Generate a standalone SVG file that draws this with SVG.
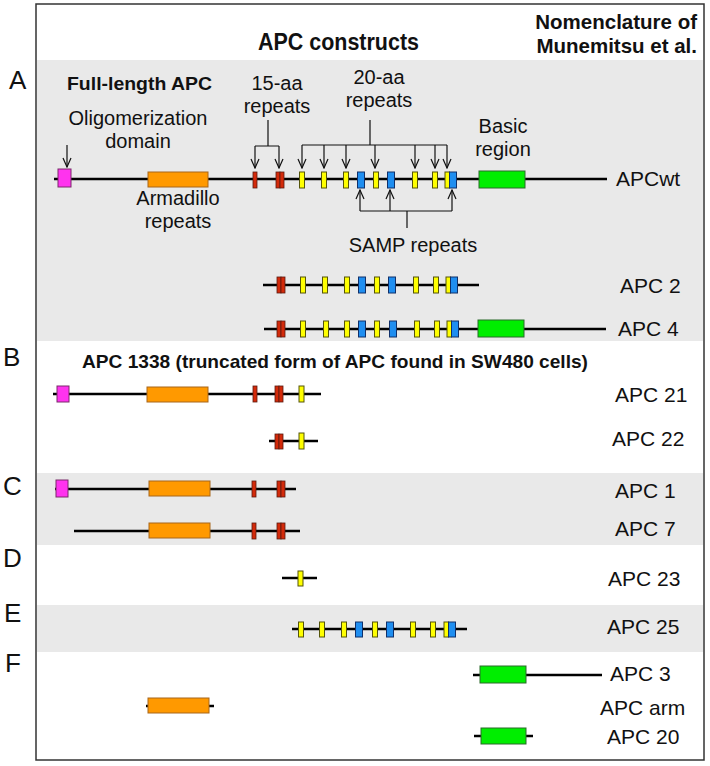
<svg xmlns="http://www.w3.org/2000/svg" width="710" height="766" viewBox="0 0 710 766">
<defs>
<style>
.t{font-family:"Liberation Sans",Arial,sans-serif;fill:#111}
.lbl{font-size:21px}
.ann{font-size:20px}
.hd{font-size:23px;font-weight:bold}
.hd2{font-size:20.5px;font-weight:bold}
.sub{font-size:19px;font-weight:bold}
.let{font-size:26px}
.band{fill:#e9e9e9}
.ln{stroke:#000;stroke-width:2.4;fill:none}
.pk{fill:#ff33ee;stroke:#7a2a6a;stroke-width:1}
.or{fill:#ff9900;stroke:#a8661a;stroke-width:1}
.rd{fill:#d42a0a;stroke:#5a1a10;stroke-width:0.8}
.ye{fill:#ffff00;stroke:#55550a;stroke-width:1}
.bl{fill:#1f8ef0;stroke:#10306a;stroke-width:1}
.gr{fill:#00ee00;stroke:#2a6a2a;stroke-width:1}
.ar{stroke:#111;stroke-width:1.2;fill:none}
</style>
<marker id="ah" viewBox="-10 -5 11 10" refX="0" refY="0" markerWidth="11" markerHeight="10" markerUnits="userSpaceOnUse" orient="auto">
<path d="M-9,-4 L0,0 L-9,4" fill="none" stroke="#111" stroke-width="1.2"/>
</marker>
</defs>
<rect x="0" y="0" width="710" height="766" fill="#fff"/>
<g id="bands">
<rect class="band" x="37" y="60" width="666" height="281"/>
<rect class="band" x="37" y="473" width="666" height="72"/>
<rect class="band" x="37" y="605" width="666" height="47"/>
</g>
<rect x="36" y="4" width="668" height="756" fill="none" stroke="#333" stroke-width="1.5"/>
<g id="headers">
<text class="t hd" x="258" y="50" textLength="161" lengthAdjust="spacingAndGlyphs">APC constructs</text>
<text class="t hd2" x="697" y="29" text-anchor="end">Nomenclature of</text>
<text class="t hd2" x="697" y="53" text-anchor="end">Munemitsu et al.</text>
</g>
<g id="letters">
<text class="t let" x="9" y="89">A</text>
<text class="t let" x="3" y="366">B</text>
<text class="t let" x="3" y="495">C</text>
<text class="t let" x="3" y="567">D</text>
<text class="t let" x="4" y="622">E</text>
<text class="t let" x="5" y="672">F</text>
</g>
<g id="APCwt">
<text class="t sub" x="67" y="90" textLength="145" lengthAdjust="spacingAndGlyphs">Full-length APC</text>
<text class="t ann" x="138" y="125" text-anchor="middle">Oligomerization</text>
<text class="t ann" x="138" y="148" text-anchor="middle">domain</text>
<text class="t ann" x="277" y="90" text-anchor="middle">15-aa</text>
<text class="t ann" x="277" y="113" text-anchor="middle">repeats</text>
<text class="t ann" x="379" y="84" text-anchor="middle">20-aa</text>
<text class="t ann" x="379" y="107" text-anchor="middle">repeats</text>
<text class="t ann" x="503" y="133" text-anchor="middle">Basic</text>
<text class="t ann" x="503" y="156" text-anchor="middle">region</text>
<text class="t ann" x="178" y="205" text-anchor="middle">Armadillo</text>
<text class="t ann" x="178" y="228" text-anchor="middle">repeats</text>
<text class="t ann" x="413" y="252" text-anchor="middle">SAMP repeats</text>
<line class="ln" x1="54" y1="179" x2="607" y2="179"/>
<rect class="pk" x="58" y="169" width="13" height="18"/>
<rect class="or" x="148" y="172" width="60" height="15"/>
<rect class="rd" x="253" y="172" width="4" height="16"/>
<rect class="rd" x="276" y="172" width="4" height="16"/>
<rect class="rd" x="280" y="172" width="4" height="16"/>
<rect class="ye" x="299.5" y="172" width="5" height="16"/>
<rect class="ye" x="321.5" y="172" width="5" height="16"/>
<rect class="ye" x="343.5" y="172" width="5" height="16"/>
<rect class="bl" x="357.5" y="172" width="7" height="16"/>
<rect class="ye" x="373.5" y="172" width="5" height="16"/>
<rect class="bl" x="387.5" y="172" width="7" height="16"/>
<rect class="ye" x="412.5" y="172" width="5" height="16"/>
<rect class="ye" x="432.5" y="172" width="5" height="16"/>
<rect class="ye" x="445" y="172" width="4.5" height="16"/>
<rect class="bl" x="449.5" y="172" width="7" height="16"/>
<rect class="gr" x="479" y="171" width="46" height="17"/>
<text class="t lbl" x="616" y="186">APCwt</text>
</g>
<g id="connectors">
<line class="ar" x1="67" y1="145" x2="67" y2="167" marker-end="url(#ah)"/>
<path class="ar" d="M268,120 V146 M255,146 H279"/>
<line class="ar" x1="255" y1="146" x2="255" y2="168" marker-end="url(#ah)"/>
<line class="ar" x1="279" y1="146" x2="279" y2="168" marker-end="url(#ah)"/>
<path class="ar" d="M370,120 V145 M302,145 H447"/>
<line class="ar" x1="302" y1="145" x2="302" y2="168" marker-end="url(#ah)"/>
<line class="ar" x1="324" y1="145" x2="324" y2="168" marker-end="url(#ah)"/>
<line class="ar" x1="346" y1="145" x2="346" y2="168" marker-end="url(#ah)"/>
<line class="ar" x1="375" y1="145" x2="375" y2="168" marker-end="url(#ah)"/>
<line class="ar" x1="415" y1="145" x2="415" y2="168" marker-end="url(#ah)"/>
<line class="ar" x1="435" y1="145" x2="435" y2="168" marker-end="url(#ah)"/>
<line class="ar" x1="447" y1="145" x2="447" y2="168" marker-end="url(#ah)"/>
<path class="ar" d="M360,211 H452 M407,211 V228"/>
<line class="ar" x1="360" y1="211" x2="360" y2="190" marker-end="url(#ah)"/>
<line class="ar" x1="390" y1="211" x2="390" y2="190" marker-end="url(#ah)"/>
<line class="ar" x1="452" y1="211" x2="452" y2="190" marker-end="url(#ah)"/>
</g>
<g id="APC2">
<line class="ln" x1="263" y1="285" x2="479" y2="285"/>
<rect class="rd" x="277" y="277" width="4" height="16"/>
<rect class="rd" x="281" y="277" width="4" height="16"/>
<rect class="ye" x="300.5" y="277" width="5" height="16"/>
<rect class="ye" x="322.5" y="277" width="5" height="16"/>
<rect class="ye" x="344.5" y="277" width="5" height="16"/>
<rect class="bl" x="358.5" y="277" width="7" height="16"/>
<rect class="ye" x="374.5" y="277" width="5" height="16"/>
<rect class="bl" x="388.5" y="277" width="7" height="16"/>
<rect class="ye" x="413.5" y="277" width="5" height="16"/>
<rect class="ye" x="433.5" y="277" width="5" height="16"/>
<rect class="ye" x="446" y="277" width="4.5" height="16"/>
<rect class="bl" x="450.5" y="277" width="7" height="16"/>
<text class="t lbl" x="620" y="293">APC 2</text>
</g>
<g id="APC4">
<line class="ln" x1="264" y1="329" x2="606" y2="329"/>
<rect class="rd" x="277" y="321" width="4" height="16"/>
<rect class="rd" x="281" y="321" width="4" height="16"/>
<rect class="ye" x="300.5" y="321" width="5" height="16"/>
<rect class="ye" x="323.5" y="321" width="5" height="16"/>
<rect class="ye" x="344.5" y="321" width="5" height="16"/>
<rect class="bl" x="358.5" y="321" width="7" height="16"/>
<rect class="ye" x="374.5" y="321" width="5" height="16"/>
<rect class="bl" x="389.5" y="321" width="7" height="16"/>
<rect class="ye" x="414.5" y="321" width="5" height="16"/>
<rect class="ye" x="434.5" y="321" width="5" height="16"/>
<rect class="ye" x="447" y="321" width="4.5" height="16"/>
<rect class="bl" x="451.5" y="321" width="7" height="16"/>
<rect class="gr" x="478" y="320" width="46" height="17"/>
<text class="t lbl" x="618" y="336">APC 4</text>
</g>
<g id="APC21">
<text class="t sub" x="82" y="368" textLength="506" lengthAdjust="spacingAndGlyphs">APC 1338 (truncated form of APC found in SW480 cells)</text>
<line class="ln" x1="53" y1="394" x2="321" y2="394"/>
<rect class="pk" x="57" y="386" width="12" height="16"/>
<rect class="or" x="147" y="387" width="61" height="15"/>
<rect class="rd" x="253" y="386" width="4" height="16"/>
<rect class="rd" x="275" y="386" width="4" height="16"/>
<rect class="rd" x="279" y="386" width="4" height="16"/>
<rect class="ye" x="299" y="386" width="5" height="16"/>
<text class="t lbl" x="615" y="402">APC 21</text>
</g>
<g id="APC22">
<line class="ln" x1="269" y1="441" x2="318" y2="441"/>
<rect class="rd" x="275" y="434" width="4" height="15"/>
<rect class="rd" x="279" y="434" width="4" height="15"/>
<rect class="ye" x="299" y="433" width="5" height="16"/>
<text class="t lbl" x="612" y="446">APC 22</text>
</g>
<g id="APC1">
<line class="ln" x1="55" y1="489" x2="296" y2="489"/>
<rect class="pk" x="56" y="480" width="12" height="17"/>
<rect class="or" x="149" y="481" width="61" height="15"/>
<rect class="rd" x="252" y="481" width="4" height="16"/>
<rect class="rd" x="277" y="481" width="4" height="16"/>
<rect class="rd" x="281" y="481" width="4" height="16"/>
<text class="t lbl" x="615" y="498">APC 1</text>
</g>
<g id="APC7">
<line class="ln" x1="74" y1="531" x2="300" y2="531"/>
<rect class="or" x="149" y="523" width="61" height="15"/>
<rect class="rd" x="252" y="523" width="4" height="16"/>
<rect class="rd" x="277" y="523" width="4" height="16"/>
<rect class="rd" x="281" y="523" width="4" height="16"/>
<text class="t lbl" x="615" y="536">APC 7</text>
</g>
<g id="APC23">
<line class="ln" x1="282" y1="578" x2="317" y2="578"/>
<rect class="ye" x="298" y="571" width="5" height="15"/>
<text class="t lbl" x="608" y="586">APC 23</text>
</g>
<g id="APC25">
<line class="ln" x1="292" y1="629" x2="467" y2="629"/>
<rect class="ye" x="298.5" y="622" width="5" height="15"/>
<rect class="ye" x="319.5" y="622" width="5" height="15"/>
<rect class="ye" x="341.5" y="622" width="5" height="15"/>
<rect class="bl" x="355.5" y="622" width="7" height="15"/>
<rect class="ye" x="372.5" y="622" width="5" height="15"/>
<rect class="bl" x="386.5" y="622" width="7" height="15"/>
<rect class="ye" x="410.5" y="622" width="5" height="15"/>
<rect class="ye" x="430.5" y="622" width="5" height="15"/>
<rect class="ye" x="444" y="622" width="4.5" height="15"/>
<rect class="bl" x="448.5" y="622" width="7" height="15"/>
<text class="t lbl" x="607" y="634">APC 25</text>
</g>
<g id="APC3">
<line class="ln" x1="473" y1="675" x2="602" y2="675"/>
<rect class="gr" x="480" y="666" width="46" height="17"/>
<text class="t lbl" x="610" y="681">APC 3</text>
</g>
<g id="APCarm">
<line class="ln" x1="146" y1="706" x2="214" y2="706"/>
<rect class="or" x="148" y="698" width="61" height="15"/>
<text class="t lbl" x="600" y="715">APC arm</text>
</g>
<g id="APC20">
<line class="ln" x1="474" y1="736" x2="533" y2="736"/>
<rect class="gr" x="481" y="728" width="45" height="16"/>
<text class="t lbl" x="607" y="744">APC 20</text>
</g>
</svg>
